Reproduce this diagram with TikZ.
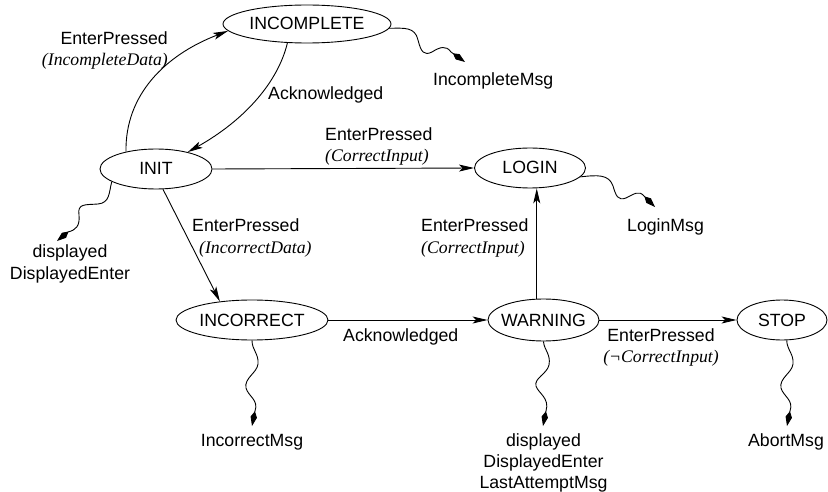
\documentclass[tikz,border=0pt]{standalone}
\usepackage{fontspec}
\setmainfont{Liberation Sans}
\newfontfamily\seriffont{Liberation Serif}
\usetikzlibrary{arrows.meta,shapes.geometric,calc}
\newcommand{\cond}[1]{{\seriffont\itshape #1}}
\begin{document}
\begin{tikzpicture}[x=1pt,y=-1pt,
  every node/.style={font=\fontsize{17.7}{21}\selectfont},
  st/.style={ellipse, draw, line width=0.9pt, inner sep=0pt, text height=12.7pt, text depth=0.7pt},
  lbl/.style={inner sep=0pt},
  arr/.style={line width=0.9pt, -{Stealth[length=15pt,width=7pt,inset=3.5pt]}},
  sq/.style={line width=0.9pt, -{Kite[length=15pt,width=6.5pt,inset=6pt]}}]
\useasboundingbox (0,0) rectangle (828,492);
% states
\node[st, minimum width=168pt, minimum height=38pt] (incomplete) at (307,24) {\makebox[0pt]{INCOMPLETE}};
\node[st, minimum width=112pt, minimum height=40pt] (init) at (156,169) {\makebox[0pt]{INIT}};
\node[st, minimum width=111pt, minimum height=40pt] (login) at (530,168) {\makebox[0pt]{LOGIN}};
\node[st, minimum width=152pt, minimum height=40pt] (incorrect) at (252,320) {\makebox[0pt]{INCORRECT}};
\node[st, minimum width=111pt, minimum height=42pt] (warning) at (543.5,320) {\makebox[0pt]{WARNING}};
\node[st, minimum width=90pt, minimum height=40pt] (stop) at (782,320) {\makebox[0pt]{STOP}};
% transitions
\draw[arr] (init.150) .. controls (125,95) and (165,55) .. (incomplete.185);
\draw[arr] (incomplete.-136) .. controls (278,82) and (245,120) .. (init.28);
\draw[arr] (init.east) -- (login.west);
\draw[arr] (init.-71) -- (incorrect.150);
\coordinate (m) at ($(warning.north)!0.5!(login.south)$);
\draw[arr] (warning.north -| m) -- (login.south -| m);
\draw[arr] (incorrect.east) -- (warning.west);
\draw[arr] (warning.east) -- (stop.west);
% outputs
\coordinate (t1) at (465,62);
\coordinate (t2) at (655,207);
\coordinate (t3) at (57,241);
\coordinate (t4) at (252,426);
\coordinate (t5) at (543,426);
\coordinate (t6) at (787,426);
\draw[sq] (incomplete.-3) .. controls (405,28) and (415,27) .. (418,40) .. controls (421,52) and (424,56) .. (432,52) .. controls (440,47) and (446,45) .. (451,52) -- (t1);
\draw[sq] (login.-10) .. controls (597,175) and (609,174) .. (613,186) .. controls (616,196) and (618,201) .. (626,198) .. controls (634,194) and (639,190) .. (644,196) -- (t2);
\draw[sq] (init.196) .. controls (109,192) and (110,203) .. (98,204) .. controls (86,205) and (77,203) .. (79,215) .. controls (80,226) and (76,230) .. (68,232) -- (t3);
\draw[sq] (incorrect.south) .. controls (252,350) and (259,354) .. (258,364) .. controls (257,373) and (244,378) .. (246,388) .. controls (248,396) and (259,400) .. (255,411) -- (t4);
\draw[sq] (warning.south) .. controls (544,350) and (551,354) .. (549,365) .. controls (547,374) and (534,378) .. (536,386) .. controls (538,393) and (550,398) .. (546,411) -- (t5);
\draw[sq] (stop.-77) .. controls (787,350) and (794,354) .. (793,364) .. controls (792,373) and (779,378) .. (781,388) .. controls (783,396) and (794,400) .. (790,411) -- (t6);
% labels (base = baseline of the last line)
\node[lbl, anchor=base east, align=right] (l1) at (168,66) {EnterPressed\\\cond{(IncompleteData)}};
\node[lbl, anchor=base west] (l2) at (268,100) {Acknowledged};
\node[lbl, anchor=base west, align=left] (l3) at (325,162) {EnterPressed\\\cond{(CorrectInput)}};
\node[lbl, anchor=base west] (l4) at (433,86) {IncompleteMsg};
\node[lbl, anchor=base west] (l5) at (627,232) {LoginMsg};
\node[lbl, anchor=base west, align=left] (l6) at (421,253) {EnterPressed\\\cond{(CorrectInput)}};
\node[lbl, anchor=base west, align=left] (l7) at (192,253) {EnterPressed\\\hspace*{7pt}\cond{(IncorrectData)}};
\node[lbl, anchor=base, align=center] (l8) at (70,279) {displayed\\DisplayedEnter};
\node[lbl, anchor=base west] (l9) at (343,341) {Acknowledged};
\node[lbl, anchor=base, align=center] (l10) at (661,362) {EnterPressed\\\cond{(¬CorrectInput)}};
\node[lbl, anchor=base] (l11) at (252,446) {IncorrectMsg};
\node[lbl, anchor=base, align=center] (l12) at (543.5,488) {displayed\\DisplayedEnter\\LastAttemptMsg};
\node[lbl, anchor=base] (l13) at (786,446) {AbortMsg};
\end{tikzpicture}
\end{document}
